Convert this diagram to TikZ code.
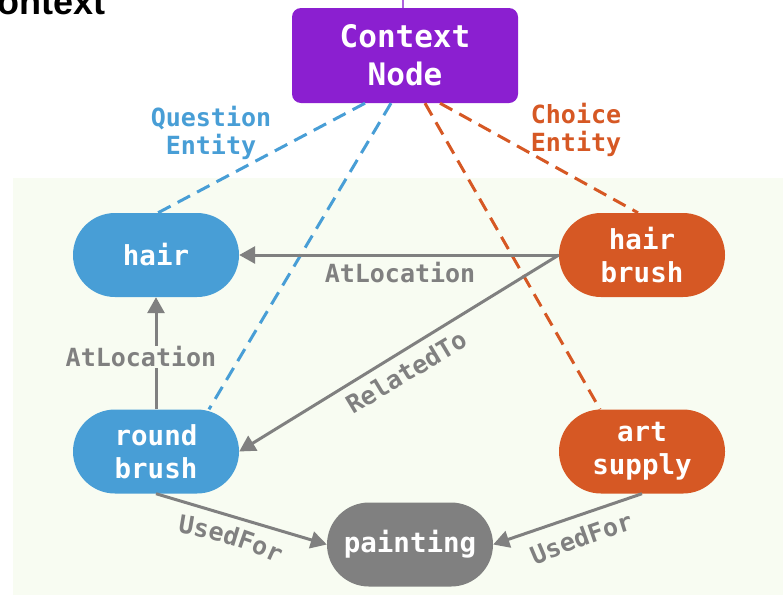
\documentclass[tikz,border=0pt]{standalone}
\usepackage{fontspec}
\setmainfont{Liberation Sans}
\newfontfamily\codefont{DejaVu Sans Mono}
\usetikzlibrary{arrows.meta,decorations.text}

\definecolor{ctxpurple}{RGB}{139,31,208}
\definecolor{qblue}{RGB}{72,158,214}
\definecolor{corange}{RGB}{214,88,36}
\definecolor{relgray}{RGB}{128,128,128}
\definecolor{panelbg}{RGB}{248,252,242}

\newcommand{\relfont}{\codefont\bfseries\fontsize{25}{28}\selectfont}

\tikzset{
  entity/.style={rounded corners=42pt, minimum width=166pt, minimum height=84pt,
    inner sep=0pt, text=white, align=center,
    font=\codefont\bfseries\fontsize{27.5}{33}\selectfont},
  qentity/.style={entity, fill=qblue},
  centity/.style={entity, fill=corange},
  gentity/.style={entity, fill=relgray},
  relarrow/.style={draw=relgray, line width=3pt, -{Triangle[length=16pt,width=17pt]}},
  rellabel/.style={text=relgray, inner sep=1pt, font=\relfont},
  arclabel/.style={decorate, decoration={text along path, text align=center,
    text={|\relfont\color{relgray}|#1}}},
  qlink/.style={draw=qblue, line width=3pt, dash pattern=on 14pt off 8pt},
  clink/.style={draw=corange, line width=3pt, dash pattern=on 14pt off 8pt},
  linklabel/.style={align=center, inner sep=0pt, font=\relfont},
}

\begin{document}
\begin{tikzpicture}[x=1pt, y=-1pt]
  \useasboundingbox (0,0) rectangle (783,595);
  \fill[white] (0,0) rectangle (783,595);

  % light panel holding the entity graph
  \fill[panelbg] (13,178) rectangle (783,595);

  % heading, running off the top-left edge
  \node[anchor=base east, inner sep=0pt, font=\bfseries\fontsize{36}{40}\selectfont]
    (title) at (106,14) {Context};

  % context node
  \node[fill=ctxpurple, rounded corners=9pt, minimum width=226pt, minimum height=95pt,
        inner sep=0pt, text=white, align=center,
        font=\codefont\bfseries\fontsize{31}{38}\selectfont]
    (ctx) at (405,55.5) {Context\\Node};
  \coordinate (ctxin) at (403,-4);
  \draw[ctxpurple!70, line width=2.5pt] (ctxin) -- ([xshift=-2pt]ctx.north);

  % entities
  \node[qentity] (hair)  at (156,255) {hair};
  \node[qentity] (rb)    at (156,451.5) {round\\brush};
  \node[centity] (hb)    at (642,255) {hair\\brush};
  \node[centity] (as)    at (642,451.5) {art\\supply};
  \node[gentity] (paint) at (410,544.5) {painting};

  % question / choice links from the context node
  \draw[qlink] ([xshift=-40pt]ctx.south) -- ([xshift=2pt]hair.north);
  \draw[qlink] ([xshift=-14pt]ctx.south) -- ([xshift=53pt]rb.north);
  \draw[clink] ([xshift=20pt]ctx.south) -- ([xshift=-42pt]as.north);
  \draw[clink] ([xshift=35pt]ctx.south) -- ([xshift=-4pt]hb.north);

  \node[linklabel, text=qblue]   (qlab) at (211,133) {Question\\Entity};
  \node[linklabel, text=corange] (clab) at (576,130) {Choice\\Entity};

  % relations between entities
  \draw[relarrow] (hb.west) -- (hair.east);
  \draw[relarrow] (hb.west) -- (rb.east);
  \draw[relarrow] (rb.north) -- (hair.south);
  \draw[relarrow] (rb.south) -- (paint.west);
  \draw[relarrow] (as.south) -- (paint.east);

  \node[rellabel] (l1) at (400,273) {AtLocation};
  \node[rellabel, fill=panelbg] (l2) at (141,357) {AtLocation};
  \node[rellabel, rotate=31] (l3) at (406,372) {RelatedTo};

  % the two UsedFor labels, set along gently bent baselines
  \coordinate (arcl) at (126.5,879.2);
  \coordinate (arcr) at (892,1391.5);
  \path[arclabel=UsedFor] (arcl) ++(-92:350) arc[start angle=-92, end angle=-54, radius=350];
  \path[arclabel=UsedFor] (arcr) ++(-120:900) arc[start angle=-120, end angle=-100, radius=900];
\end{tikzpicture}
\end{document}
